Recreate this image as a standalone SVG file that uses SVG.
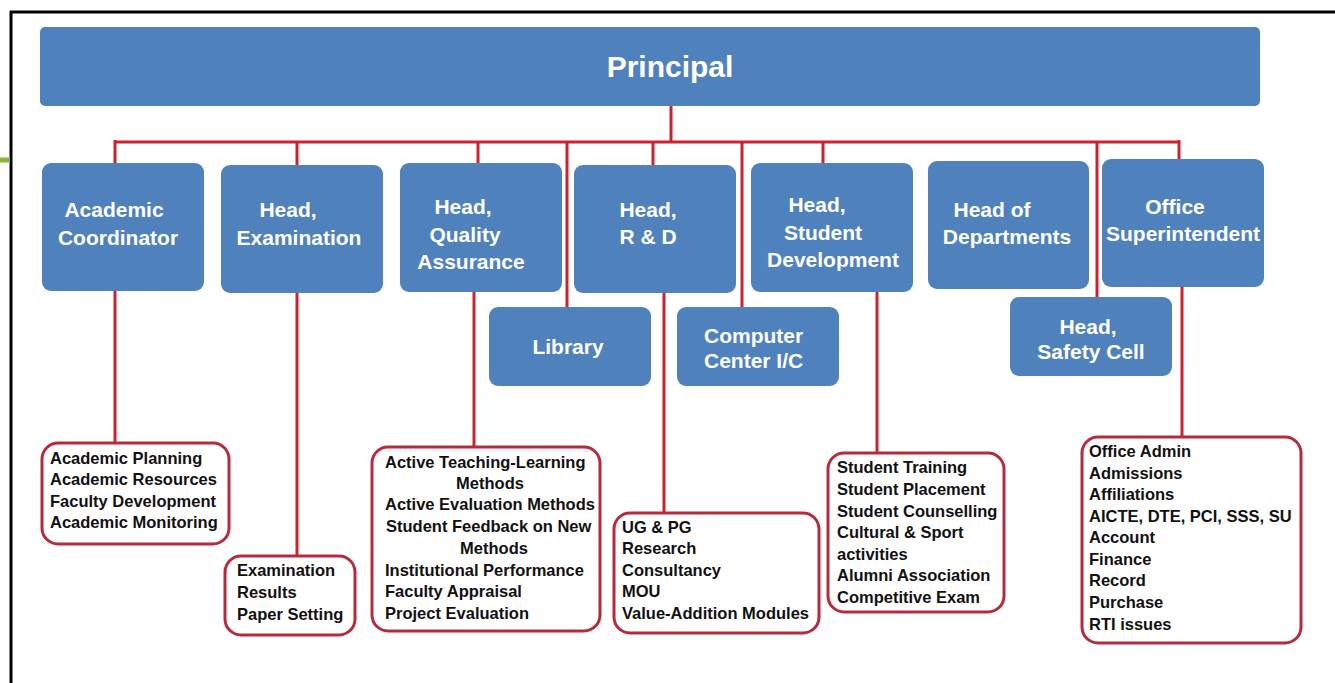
<svg xmlns="http://www.w3.org/2000/svg" width="1335" height="683" viewBox="0 0 1335 683">
<style>
.node{fill:#4F81BD}
.nt{font-family:"Liberation Sans",Arial,sans-serif;font-weight:bold;font-size:21px;fill:#FFFFFF;text-anchor:middle}
.box{fill:#FFFFFF;stroke:#B52B3E;stroke-width:3}
.bt{font-family:"Liberation Sans",Arial,sans-serif;font-weight:bold;font-size:16.5px;fill:#111111}
.c{stroke:#C8232F;stroke-width:3;fill:none}
</style>
<rect x="0" y="0" width="1335" height="683" fill="#FFFFFF"/>
<line x1="10" y1="12" x2="1335" y2="12" stroke="#000" stroke-width="3"/>
<line x1="11" y1="11" x2="11" y2="683" stroke="#000" stroke-width="3"/>
<line x1="0" y1="160" x2="10" y2="160" stroke="#8CB43C" stroke-width="5"/>

<g id="connectors" class="c">
<line x1="671" y1="106" x2="671" y2="142"/>
<line x1="115" y1="142" x2="1180" y2="142"/>
<line x1="115" y1="140" x2="115" y2="163"/>
<line x1="297" y1="142" x2="297" y2="165"/>
<line x1="478" y1="142" x2="478" y2="163"/>
<line x1="567" y1="142" x2="567" y2="307"/>
<line x1="653" y1="142" x2="653" y2="165"/>
<line x1="742" y1="142" x2="742" y2="307"/>
<line x1="823" y1="142" x2="823" y2="163"/>
<line x1="1097" y1="142" x2="1097" y2="297"/>
<line x1="1179" y1="140" x2="1179" y2="159"/>
<line x1="115" y1="291" x2="115" y2="443"/>
<line x1="297" y1="293" x2="297" y2="556"/>
<line x1="474" y1="292" x2="474" y2="448"/>
<line x1="664" y1="293" x2="664" y2="513"/>
<line x1="877" y1="292" x2="877" y2="453"/>
<line x1="1182" y1="287" x2="1182" y2="438"/>
</g>

<g id="principal">
<rect class="node" x="40" y="27" width="1220" height="79" rx="5"/>
<text class="nt" x="670" y="77" style="font-size:30px">Principal</text>
</g>

<g id="academic-coordinator">
<rect class="node" x="42" y="163" width="162" height="128" rx="9"/>
<text class="nt" x="114" y="217">Academic</text>
<text class="nt" x="118" y="245">Coordinator</text>
</g>
<g id="head-examination">
<rect class="node" x="221" y="165" width="162" height="128" rx="9"/>
<text class="nt" x="288" y="217">Head,</text>
<text class="nt" x="299" y="245">Examination</text>
</g>
<g id="head-quality">
<rect class="node" x="400" y="163" width="162" height="129" rx="9"/>
<text class="nt" x="463" y="214">Head,</text>
<text class="nt" x="465" y="242">Quality</text>
<text class="nt" x="471" y="269">Assurance</text>
</g>
<g id="head-rd">
<rect class="node" x="574" y="165" width="162" height="128" rx="9"/>
<text class="nt" x="648" y="217">Head,</text>
<text class="nt" x="648" y="244">R &amp; D</text>
</g>
<g id="head-student-development">
<rect class="node" x="751" y="163" width="162" height="129" rx="9"/>
<text class="nt" x="817" y="212">Head,</text>
<text class="nt" x="823" y="240">Student</text>
<text class="nt" x="833" y="267">Development</text>
</g>
<g id="head-departments">
<rect class="node" x="928" y="161" width="161" height="128" rx="9"/>
<text class="nt" x="992" y="217">Head of</text>
<text class="nt" x="1007" y="244">Departments</text>
</g>
<g id="office-superintendent">
<rect class="node" x="1102" y="159" width="162" height="128" rx="9"/>
<text class="nt" x="1175" y="214">Office</text>
<text class="nt" x="1183" y="241">Superintendent</text>
</g>
<g id="library">
<rect class="node" x="489" y="307" width="162" height="79" rx="9"/>
<text class="nt" x="568" y="354">Library</text>
</g>
<g id="computer-center">
<rect class="node" x="677" y="307" width="162" height="79" rx="9"/>
<text class="nt" x="704" y="343" style="text-anchor:start">Computer</text>
<text class="nt" x="704" y="368" style="text-anchor:start">Center I/C</text>
</g>
<g id="head-safety-cell">
<rect class="node" x="1010" y="297" width="162" height="79" rx="9"/>
<text class="nt" x="1088" y="334">Head,</text>
<text class="nt" x="1091" y="359">Safety Cell</text>
</g>

<g id="academic-duties">
<rect class="box" x="42" y="443" width="187" height="101" rx="16"/>
<text class="bt" x="50" y="464">Academic Planning</text>
<text class="bt" x="50" y="485">Academic Resources</text>
<text class="bt" x="50" y="507">Faculty Development</text>
<text class="bt" x="50" y="528">Academic Monitoring</text>
</g>
<g id="examination-duties">
<rect class="box" x="225" y="556" width="130" height="79" rx="16"/>
<text class="bt" x="237" y="576">Examination</text>
<text class="bt" x="237" y="598">Results</text>
<text class="bt" x="237" y="620">Paper Setting</text>
</g>
<g id="quality-duties">
<rect class="box" x="372" y="447" width="228" height="184" rx="16"/>
<text class="bt" x="385" y="468">Active Teaching-Learning</text>
<text class="bt" x="490" y="489" style="text-anchor:middle">Methods</text>
<text class="bt" x="385" y="510">Active Evaluation Methods</text>
<text class="bt" x="386" y="532">Student Feedback on New</text>
<text class="bt" x="494" y="554" style="text-anchor:middle">Methods</text>
<text class="bt" x="385" y="576">Institutional Performance</text>
<text class="bt" x="385" y="597">Faculty Appraisal</text>
<text class="bt" x="385" y="619">Project Evaluation</text>
</g>
<g id="rd-duties">
<rect class="box" x="614" y="513" width="205" height="120" rx="16"/>
<text class="bt" x="622" y="533">UG &amp; PG</text>
<text class="bt" x="622" y="554">Research</text>
<text class="bt" x="622" y="576">Consultancy</text>
<text class="bt" x="622" y="597">MOU</text>
<text class="bt" x="622" y="619">Value-Addition Modules</text>
</g>
<g id="student-duties">
<rect class="box" x="828" y="453" width="176" height="159" rx="16"/>
<text class="bt" x="837" y="473">Student Training</text>
<text class="bt" x="837" y="495">Student Placement</text>
<text class="bt" x="837" y="517">Student Counselling</text>
<text class="bt" x="837" y="538">Cultural &amp; Sport</text>
<text class="bt" x="837" y="560">activities</text>
<text class="bt" x="837" y="581">Alumni Association</text>
<text class="bt" x="837" y="603">Competitive Exam</text>
</g>
<g id="office-duties">
<rect class="box" x="1082" y="437" width="219" height="206" rx="16"/>
<text class="bt" x="1089" y="457">Office Admin</text>
<text class="bt" x="1089" y="479">Admissions</text>
<text class="bt" x="1089" y="500">Affiliations</text>
<text class="bt" x="1089" y="522">AICTE, DTE, PCI, SSS, SU</text>
<text class="bt" x="1089" y="543">Account</text>
<text class="bt" x="1089" y="565">Finance</text>
<text class="bt" x="1089" y="586">Record</text>
<text class="bt" x="1089" y="608">Purchase</text>
<text class="bt" x="1089" y="630">RTI issues</text>
</g>
</svg>
